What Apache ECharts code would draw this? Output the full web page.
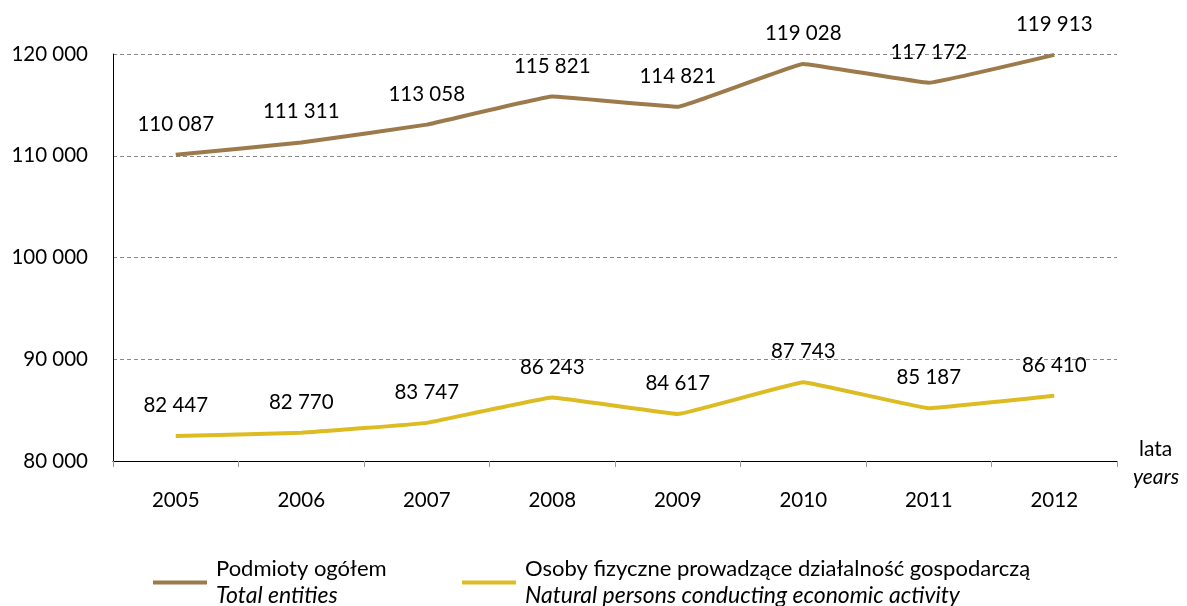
<!DOCTYPE html>
<html><head><meta charset="utf-8">
<script src="https://cdn.jsdelivr.net/npm/echarts@6/dist/echarts.min.js"></script>
<style>html,body{margin:0;padding:0;background:#fff}#c{width:1187px;height:606px}</style>
</head><body><div id="c"></div>
<script>
const years = ['2005','2006','2007','2008','2009','2010','2011','2012'];
const totalEntities = [110087, 111311, 113058, 115821, 114821, 119028, 117172, 119913];
const naturalPersons = [82447, 82770, 83747, 86243, 84617, 87743, 85187, 86410];
const seriesNamesPl = ['Podmioty ogółem', 'Osoby fizyczne prowadzące działalność gospodarczą'];
const seriesNamesEn = ['Total entities', 'Natural persons conducting economic activity'];
const axisNamePl = 'lata', axisNameEn = 'years';

const FONT = 'Lato, "Open Sans", sans-serif';
const fmt = v => String(v).replace(/\B(?=(\d{3})+(?!\d))/g, ' ');
const colors = ['#9C7A4B', '#DDBB22'];

const chart = echarts.init(document.getElementById('c'));
function legendFor(i, left) {
  return {
    left: left, top: 553, orient: 'horizontal',
    data: [seriesNamesPl[i]],
    icon: 'rect', itemWidth: 54, itemHeight: 4, itemGap: 10,
    selectedMode: false,
    formatter: () => '{a|' + seriesNamesPl[i] + '}\n{b|' + seriesNamesEn[i] + '}',
    textStyle: {
      fontFamily: FONT, color: '#000', padding: [0,0,0,4],
      rich: {
        a: { fontSize: 22, fontFamily: FONT, color: '#000', lineHeight: 27 },
        b: { fontSize: 23, fontFamily: FONT, color: '#000', fontStyle: 'italic', lineHeight: 27 }
      }
    }
  };
}
const labelCfg = { show: true, position: 'top', distance: 20, fontSize: 20.5, fontFamily: FONT, color: '#000', formatter: p => fmt(p.value) };
chart.setOption({
  animation: false,
  grid: { left: 113, right: 70, top: 54, bottom: 145, containLabel: false },
  legend: [legendFor(0, 148), legendFor(1, 457)],
  graphic: [{
    type: 'text', left: 1139, top: 439,
    style: { text: axisNamePl, font: '21px ' + FONT, fill: '#000' }
  }, {
    type: 'text', left: 1133, top: 467,
    style: { text: axisNameEn, font: 'italic 21px ' + FONT, fill: '#000' }
  }],
  xAxis: {
    type: 'category', data: years, boundaryGap: true,
    axisLine: { lineStyle: { color: '#000', width: 1 } },
    axisTick: { show: true, length: 6, alignWithLabel: false, lineStyle: { color: '#999' } },
    axisLabel: { margin: 29, fontSize: 20.5, fontFamily: FONT, color: '#000' }
  },
  yAxis: {
    type: 'value', min: 80000, max: 120000, interval: 10000,
    axisLine: { show: true, lineStyle: { color: '#000' } },
    axisTick: { show: false },
    axisLabel: { margin: 25, fontSize: 20.5, fontFamily: FONT, color: '#000', formatter: fmt },
    splitLine: { lineStyle: { color: '#888', type: [4, 3], width: 1 } }
  },
  series: [{
    name: seriesNamesPl[0], type: 'line', data: totalEntities, smooth: 0.06,
    symbol: 'circle', symbolSize: 0.1, showSymbol: true,
    lineStyle: { color: colors[0], width: 4 }, itemStyle: { color: colors[0] },
    label: labelCfg
  }, {
    name: seriesNamesPl[1], type: 'line', data: naturalPersons, smooth: 0.06,
    symbol: 'circle', symbolSize: 0.1, showSymbol: true,
    lineStyle: { color: colors[1], width: 4 }, itemStyle: { color: colors[1] },
    label: labelCfg
  }]
});
</script></body></html>
